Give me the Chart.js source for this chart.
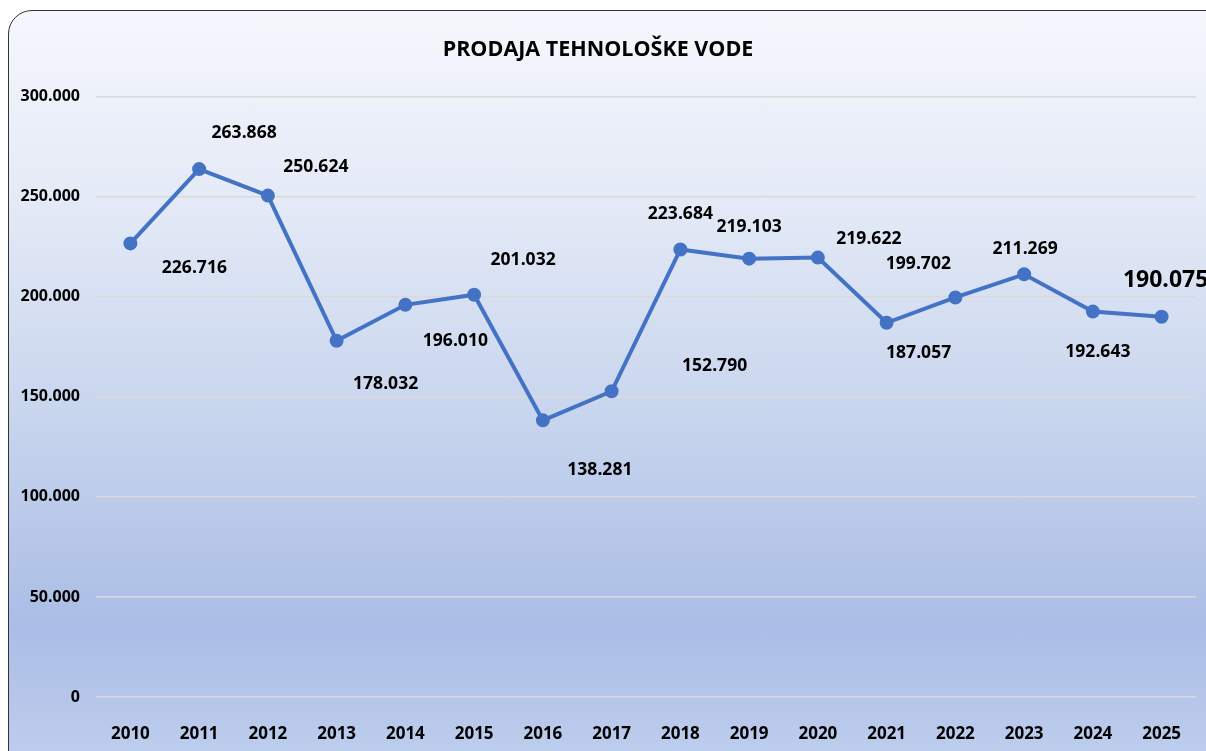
<!DOCTYPE html>
<html lang="sr">
<head>
  <meta charset="UTF-8">
  <title>Prodaja tehnološke vode</title>
  <script src="https://cdn.jsdelivr.net/npm/chart.js@4.4.1/dist/chart.umd.min.js"></script>
  <style>
    html, body { margin: 0; padding: 0; width: 1206px; height: 751px; overflow: hidden; background: #fff; }
    .frame {
      position: absolute; left: 8px; top: 10px; width: 1230px; height: 790px;
      border: 1.5px solid #333; border-radius: 24px;
      background: linear-gradient(to bottom, #f5f7fd 0%, #e3e9f6 25%, #c9d6ee 50%, #abbde6 78%, #c4d3ef 100%);
    }
    canvas { position: absolute; left: 0; top: 0; }
  </style>
</head>
<body>
  <div class="frame"></div>
  <canvas id="voda-chart" width="1206" height="751"></canvas>

  <script>
    const years = ['2010', '2011', '2012', '2013', '2014', '2015', '2016', '2017',
                   '2018', '2019', '2020', '2021', '2022', '2023', '2024', '2025'];
    const sales = [226716, 263868, 250624, 178032, 196010, 201032, 138281, 152790,
                   223684, 219103, 219622, 187057, 199702, 211269, 192643, 190075];
    const yTicks = [0, 50000, 100000, 150000, 200000, 250000, 300000];

    // where each value label sits relative to its point (px)
    const labelDx = [64, 45, 48, 49, 50, 49, 57, 103, 0, 0, 51, 32, -37, 1, 5, 4];
    const labelDy = [25, -36, -29, 43, 36, -35, 50, -25, -35, -32, -19, 30, -33, -25, 40, -36];

    function fmt(v) {
      return String(v).replace(/\B(?=(\d{3})+(?!\d))/g, '.');
    }

    Chart.defaults.font.family = '"Open Sans", sans-serif';
    Chart.defaults.font.weight = 'bold';
    Chart.defaults.color = '#000';

    const valueLabels = {
      id: 'valueLabels',
      afterDatasetsDraw(chart) {
        const ctx = chart.ctx;
        const meta = chart.getDatasetMeta(0);
        ctx.save();
        ctx.fillStyle = '#000';
        ctx.textAlign = 'center';
        ctx.textBaseline = 'middle';
        meta.data.forEach((pt, i) => {
          const last = i === sales.length - 1;
          ctx.font = 'bold ' + (last ? 23 : 17.5) + 'px "Open Sans", sans-serif';
          ctx.fillText(fmt(sales[i]), pt.x + labelDx[i], pt.y + labelDy[i]);
        });
        ctx.restore();
      }
    };

    new Chart(document.getElementById('voda-chart'), {
      type: 'line',
      data: {
        labels: years,
        datasets: [{
          data: sales,
          borderColor: '#4472c4',
          backgroundColor: '#4472c4',
          borderWidth: 4,
          pointRadius: 5,
          pointHoverRadius: 5,
          tension: 0
        }]
      },
      options: {
        responsive: false,
        animation: false,
        layout: { padding: { left: 0, right: 10, top: 0, bottom: 0 } },
        plugins: {
          legend: { display: false },
          tooltip: { enabled: false },
          title: {
            display: true,
            text: 'PRODAJA TEHNOLOŠKE VODE',
            color: '#000',
            font: { size: 21.5, weight: 'bold' },
            padding: { top: 37, bottom: 34 }
          }
        },
        scales: {
          x: {
            offset: true,
            grid: { display: false },
            border: { display: false },
            ticks: { padding: 19, font: { size: 17 } },
            afterFit: s => { s.height = 54; }
          },
          y: {
            min: 0,
            max: 300000,
            afterBuildTicks: s => { s.ticks = yTicks.map(v => ({ value: v })); },
            grid: { color: '#d9d9d9', lineWidth: 1.5, drawTicks: false },
            border: { display: false },
            ticks: { padding: 16, font: { size: 16 }, callback: v => fmt(v) },
            afterFit: s => { s.width = 96; }
          }
        }
      },
      plugins: [valueLabels]
    });
  </script>
</body>
</html>
